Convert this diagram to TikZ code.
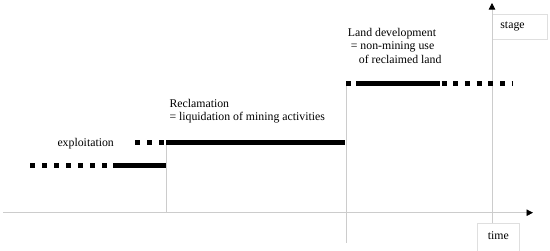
\documentclass[tikz,border=0pt]{standalone}
\usepackage{fontspec}
\setmainfont{Liberation Serif}
\usetikzlibrary{arrows.meta, positioning}

\begin{document}
\begin{tikzpicture}[
    x=1pt, y=-1pt,
    lbl/.style={inner sep=0pt, anchor=base west, font=\fontsize{11.8}{13.5}\selectfont},
    tagbox/.style={rectangle, draw=gray!25, line width=0.8pt, anchor=north west,
                   font=\fontsize{11.8}{13.5}\selectfont},
    guide/.style={draw=gray!40, line width=0.8pt},
    axis/.style={guide, -{Triangle[length=6.5pt, width=6.5pt, black]}},
    solidbar/.style={line width=5pt, black},
    dashbar/.style={solidbar, dash pattern=on 5pt off 7pt}
]
    \useasboundingbox (0,0) rectangle (550,250);

    % Axis names
    \node[tagbox, minimum width=42pt, minimum height=30pt, text depth=5pt] (timebox) at (477,223) {time};
    \node[tagbox, minimum height=25pt, text width=39pt, inner xsep=8pt] (stagebox) at (492,14) {stage};

    % Axes
    \coordinate (origin) at (3,212.7);
    \coordinate (timeend) at (533,212.7);
    \coordinate (stagefoot) at ([xshift=15pt]timebox.north west);
    \coordinate (stageend) at (492,3);
    \draw[axis] (origin) -- (timeend);
    \draw[axis] (stagefoot) -- (stageend);

    % Stage borders
    \coordinate (recstart) at (166,142.7);
    \coordinate (devstart) at (346,83.3);
    \draw[guide] (recstart) -- (recstart |- origin);
    \draw[guide] (devstart) -- (346,243);

    % Exploitation
    \draw[dashbar] (30,165) -- (107,165);
    \draw[solidbar] (113,165) -- (166,165);
    % Reclamation
    \draw[dashbar] (135,142.7) -- (164,142.7);
    \draw[solidbar] (recstart) -- (345,142.7);
    % Land development
    \draw[solidbar] (devstart) -- (351,83.3);
    \draw[solidbar] (356,83.3) -- (440,83.3);
    \draw[dashbar, dash pattern=on 5pt off 6.7pt] (441.5,83.3) -- (513,83.3);

    % Labels
    \node[lbl] (expl) at (57.3,146) {exploitation};
    \node[lbl] (recl) at (169.3,107.3) {Reclamation};
    \node[lbl] (reclnote) at ([yshift=-13.4pt]recl.base west) {= liquidation of mining activities};
    \node[lbl] (land) at (347.7,36) {Land development};
    \node[lbl] (landnote) at ([xshift=3pt, yshift=-13.5pt]land.base west) {= non-mining use};
    \node[lbl] (landnote2) at ([xshift=8pt, yshift=-13.5pt]landnote.base west) {of reclaimed land};
\end{tikzpicture}
\end{document}
